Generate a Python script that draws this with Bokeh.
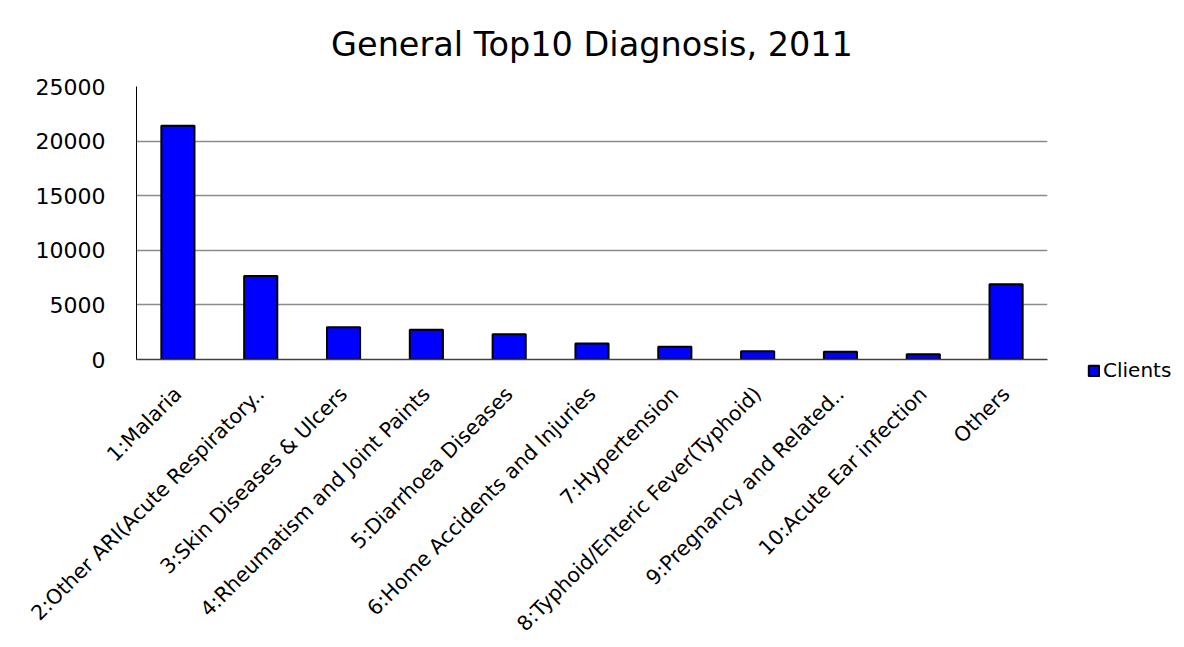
import math
from bokeh.plotting import figure
from bokeh.layouts import row
from bokeh.models import (ColumnDataSource, FixedTicker, Legend, LegendItem,
                          FactorRange, Range1d)
from bokeh.embed import file_html
from bokeh.resources import INLINE

categories = [
    "1:Malaria",
    "2:Other ARI(Acute Respiratory..",
    "3:Skin Diseases & Ulcers",
    "4:Rheumatism and Joint Paints",
    "5:Diarrhoea Diseases",
    "6:Home Accidents and Injuries",
    "7:Hypertension",
    "8:Typhoid/Enteric Fever(Typhoid)",
    "9:Pregnancy and Related..",
    "10:Acute Ear infection",
    "Others",
]
clients = [21400, 7650, 2950, 2720, 2320, 1470, 1160, 760, 700, 490, 6900]
y_ticks = [0, 5000, 10000, 15000, 20000, 25000]
series_name = "Clients"

FONT = "DejaVu Sans"
BAR_FILL = "#0000FF"

src = ColumnDataSource(dict(cat=categories, val=clients))

p = figure(
    width=1070, height=647,
    x_range=FactorRange(*categories, range_padding=0),
    y_range=(0, 25000),
    output_backend="svg", toolbar_location=None,
    min_border_left=136, min_border_right=23, min_border_top=86, min_border_bottom=288,
)
p.frame_align = False
p.title.text = "General Top10 Diagnosis, 2011"
p.title.align = "center"
p.title.text_font = FONT
p.title.text_font_size = "33.5px"
p.title.text_font_style = "normal"
p.title.text_color = "black"
p.title.offset = 0
p.title.standoff = 45

p.vbar(x="cat", top="val", width=0.4, source=src,
       fill_color=BAR_FILL, line_color="black", line_width=2)

p.outline_line_color = None
p.xgrid.grid_line_color = None
p.ygrid.grid_line_color = "#8c8c8c"
p.ygrid.grid_line_width = 1.5

p.yaxis.ticker = FixedTicker(ticks=y_ticks)
p.yaxis.axis_line_color = "black"
p.yaxis.axis_line_width = 1
p.yaxis.major_tick_line_color = None
p.yaxis.minor_tick_line_color = None
p.yaxis.major_label_text_font = FONT
p.yaxis.major_label_text_font_size = "22px"
p.yaxis.major_label_text_color = "black"
p.yaxis.major_label_standoff = 25

p.xaxis.axis_line_color = "#404040"
p.xaxis.axis_line_width = 1.5
p.xaxis.major_tick_line_color = None
p.xaxis.minor_tick_line_color = None
p.xaxis.major_label_orientation = math.pi / 4
p.xaxis.major_label_text_font = FONT
p.xaxis.major_label_text_font_size = "20.5px"
p.xaxis.major_label_text_color = "black"
p.xaxis.major_label_standoff = 25

# legend panel: its renderer carries the same series; the bars themselves are
# kept invisible (selection/nonselection styles transparent), only the legend shows
lsrc = ColumnDataSource(dict(cat=categories, val=clients))
lsrc.selected.indices = [0]
lp = figure(width=114, height=647, output_backend="svg", toolbar_location=None,
            x_range=FactorRange(*categories), y_range=Range1d(-50000, -25000),
            min_border=0)
lp.frame_align = False
lp.axis.visible = False
lp.grid.visible = False
lp.outline_line_color = None
lr = lp.vbar(x="cat", top="val", width=0.4, source=lsrc, fill_color=BAR_FILL,
             line_color="black", line_width=2,
             selection_fill_alpha=0, selection_line_alpha=0,
             nonselection_fill_alpha=0, nonselection_line_alpha=0)
legend = Legend(items=[LegendItem(label=series_name, renderers=[lr], index=0)],
                location=(17, 265), orientation="vertical")
legend.label_text_font = FONT
legend.label_text_font_size = "20px"
legend.label_text_color = "black"
legend.glyph_width = 13
legend.glyph_height = 13
legend.label_standoff = 3
legend.padding = 0
legend.margin = 0
legend.border_line_color = None
legend.background_fill_alpha = 0
lp.add_layout(legend, "center")

layout = row(p, lp)
open("out.html", "w").write(file_html(layout, INLINE))
